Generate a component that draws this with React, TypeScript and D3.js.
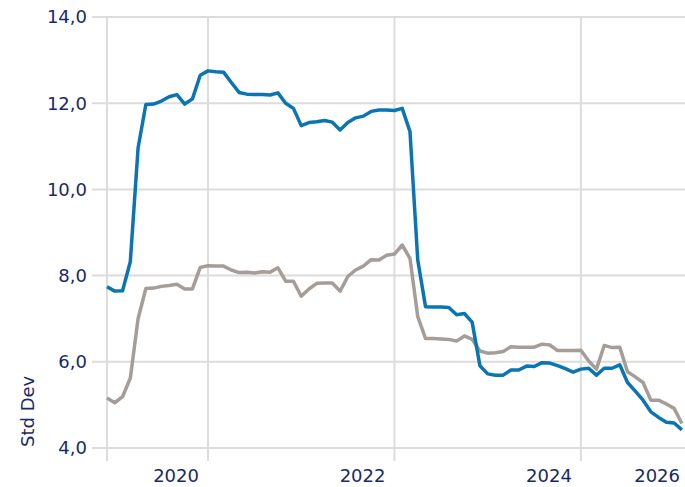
import React from 'react';
import * as d3 from 'd3';

// monthly values, first point = Dec 2018
const blueSeries = [
  7.74, 7.64, 7.65, 8.32, 10.96, 11.97, 11.98, 12.05, 12.15, 12.2, 11.98, 12.1,
  12.65, 12.75, 12.73, 12.72, 12.48, 12.25, 12.21, 12.2, 12.2, 12.19, 12.24, 12.0,
  11.88, 11.48, 11.55, 11.57, 11.6, 11.56, 11.38, 11.55, 11.66, 11.7, 11.81, 11.84,
  11.84, 11.83, 11.88, 11.34, 8.36, 7.28, 7.27, 7.27, 7.26, 7.09, 7.12, 6.92,
  5.91, 5.72, 5.69, 5.69, 5.81, 5.81, 5.9, 5.89, 5.98, 5.97, 5.91, 5.84,
  5.76, 5.83, 5.85, 5.69, 5.85, 5.85, 5.93, 5.52, 5.32, 5.11, 4.84, 4.71,
  4.6, 4.58, 4.42,
];
const greySeries = [
  5.16, 5.05, 5.19, 5.62, 7.0, 7.7, 7.71, 7.75, 7.77, 7.8, 7.69, 7.69,
  8.19, 8.23, 8.22, 8.22, 8.13, 8.07, 8.08, 8.06, 8.09, 8.08, 8.18, 7.87,
  7.87, 7.52, 7.69, 7.82, 7.83, 7.83, 7.64, 7.98, 8.13, 8.22, 8.37, 8.36,
  8.47, 8.5, 8.71, 8.4, 7.05, 6.54, 6.54, 6.53, 6.52, 6.48, 6.6, 6.52,
  6.25, 6.2, 6.21, 6.24, 6.35, 6.34, 6.34, 6.34, 6.41, 6.39, 6.26, 6.26,
  6.26, 6.27, 6.02, 5.83, 6.38, 6.33, 6.34, 5.77, 5.65, 5.52, 5.11, 5.11,
  5.02, 4.92, 4.57,
];
const yTicks = [4, 6, 8, 10, 12, 14];
const yearTicks = [2020, 2022, 2024, 2026];
const startYear = 2018; // index 0 = December of startYear
const yLabel = 'Std Dev';

const W = 685, H = 487;
const margin = { top: 17, right: 0, bottom: 39, left: 107 };
const navy = '#172a6b';
const gridColor = '#dcdcdc';
const font = '"DejaVu Sans", Verdana, sans-serif';

export default function App() {
  const monthIndex = (year: number) => (year - startYear - 1) * 12 + 1;
  const x = d3.scaleLinear().domain([0, 74.4]).range([margin.left, W - margin.right]);
  const y = d3.scaleLinear().domain([4, 14]).range([H - margin.bottom, margin.top]);
  const line = d3.line<number>().x((_, i) => x(i)).y(d => y(d));

  return (
    <svg width={W} height={H} style={{ position: 'absolute', left: 0, top: 0 }} fontFamily={font}>
      <defs>
        <clipPath id="plot">
          <rect x={margin.left - 5} y={0} width={W - margin.left + 5} height={H} />
        </clipPath>
      </defs>
      {yTicks.map(t => (
        <g key={t}>
          <line x1={92} x2={W} y1={y(t)} y2={y(t)} stroke={gridColor} strokeWidth={2} />
          <text x={87} y={y(t)} dy="0.36em" textAnchor="end" fontSize={18} fill={navy}>
            {d3.format('.1f')(t).replace('.', ',')}
          </text>
        </g>
      ))}
      <line x1={x(0)} x2={x(0)} y1={margin.top} y2={y(4) + 13} stroke={gridColor} strokeWidth={2} />
      {yearTicks.map(yr => {
        const px = x(monthIndex(yr));
        return (
          <g key={yr}>
            {px <= W && (
              <line x1={px} x2={px} y1={margin.top} y2={y(4) + 13} stroke={gridColor} strokeWidth={2} />
            )}
            <text x={Math.min(px - 9, W - 5)} y={482} textAnchor="end" fontSize={18} fill={navy}>
              {yr}
            </text>
          </g>
        );
      })}
      <text
        transform={`translate(34,${447}) rotate(-90)`}
        textAnchor="start"
        fontSize={18}
        fill={navy}
      >
        {yLabel}
      </text>
      <g clipPath="url(#plot)" fill="none" strokeWidth={3.5} strokeLinejoin="round">
        <path d={line(greySeries) ?? ''} stroke="#a59d98" />
        <path d={line(blueSeries) ?? ''} stroke="#0b74b3" />
      </g>
    </svg>
  );
}
